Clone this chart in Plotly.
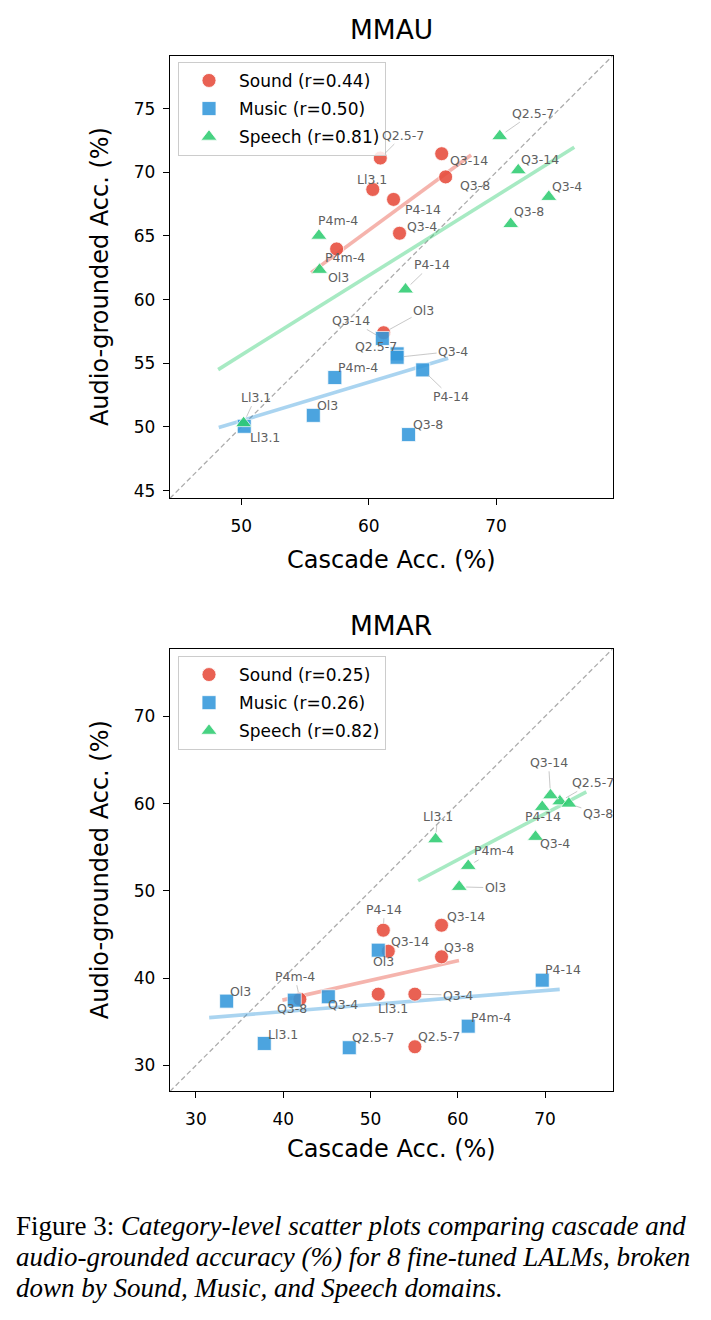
import numpy as np
import plotly.graph_objects as go

# ---------------- data ----------------
models = ["Q2.5-7", "Ll3.1", "P4-14", "Q3-14", "Q3-8", "Q3-4", "P4m-4", "Ol3"]
domains = ["Sound", "Music", "Speech"]

# MMAU (cascade acc, audio-grounded acc) per model, order = models
mmau_sound_cascade = [60.91, 60.32, 61.95, 65.73, 66.04, 62.42, 57.48, 61.17]
mmau_sound_audio = [71.12, 68.65, 67.87, 71.46, 69.64, 65.21, 63.98, 57.40]
mmau_music_cascade = [62.23, 50.23, 64.24, 61.07, 63.13, 62.23, 57.34, 55.65]
mmau_music_audio = [55.74, 50.05, 54.48, 56.95, 49.40, 55.47, 53.88, 50.91]
mmau_speech_cascade = [70.29, 50.18, 62.89, 71.74, 71.15, 74.14, 56.09, 56.14]
mmau_speech_audio = [72.84, 50.30, 60.80, 70.16, 65.94, 68.07, 65.02, 62.34]
mmau_r = [0.44, 0.50, 0.81]

# MMAR
mmar_sound_cascade = [55.09, 50.89, 51.47, 58.14, 58.14, 55.09, 41.91, 52.04]
mmar_sound_audio = [32.14, 38.17, 45.50, 46.07, 42.45, 38.17, 37.59, 43.09]
mmar_music_cascade = [47.57, 37.83, 69.68, 50.89, 41.27, 45.17, 61.20, 33.52]
mmar_music_audio = [32.03, 32.52, 39.77, 43.21, 37.48, 37.87, 34.50, 37.37]
mmar_speech_cascade = [71.70, 57.46, 69.68, 70.63, 72.73, 68.91, 61.20, 60.17]
mmar_speech_audio = [60.27, 55.92, 59.63, 60.96, 60.01, 56.20, 52.87, 50.47]
mmar_r = [0.25, 0.26, 0.82]

mmau_ticks_x = [50, 60, 70]
mmau_ticks_y = [45, 50, 55, 60, 65, 70, 75]
mmar_ticks_x = [30, 40, 50, 60, 70]
mmar_ticks_y = [30, 40, 50, 60, 70]

caption_lines = [
    "Figure 3: <i>Category-level scatter plots comparing cascade and</i>",
    "<i>audio-grounded accuracy (%) for 8 fine-tuned LALMs, broken</i>",
    "<i>down by Sound, Music, and Speech domains.</i>",
]

# ---------------- styles ----------------
W, H = 711, 1320
colors = {"Sound": "#e74c3c", "Music": "#3498db", "Speech": "#2ecc71"}
line_colors = {"Sound": "rgba(231,76,60,0.42)", "Music": "rgba(52,152,219,0.42)",
               "Speech": "rgba(46,204,113,0.42)"}
symbols = {"Sound": "circle", "Music": "square", "Speech": "triangle-up"}
msize = {"Sound": 14, "Music": 14, "Speech": 14}
FONT = "DejaVu Sans"

# label offsets (dx, dy px; dy downward) and whether a connector is drawn
mmau_label_style = {
    "Sound": [(23, -23, 1), (-1, -10, 0), (29, 10, 0), (27, 7, 0), (29, 9, 0), (22, -7, 0), (8, 9, 0), (40, -22, 1)],
    "Music": [(-21, -7, 0), (21, 11, 0), (28, 27, 1), (-31, -18, 1), (19, -10, 0), (56, -6, 1), (23, -10, 0), (14, -10, 0)],
    "Speech": [(33, -23, 1), (12, -26, 1), (26, -25, 1), (22, -11, 0), (18, -12, 0), (18, -10, 0), (19, -15, 0), (19, 8, 0)],
}
mmar_label_style = {
    "Sound": [(24, -10, 0), (15, 14, 0), (1, -21, 1), (24, -9, 0), (17, -9, 0), (43, 1, 1), (-5, -23, 1), (-5, 10, 0)],
    "Music": [(24, -10, 0), (19, -9, 0), (21, -11, 0), (32, -9, 0), (-2, 8, 0), (15, 8, 0), (23, -9, 0), (14, -10, 0)],
    "Speech": [(33, -19, 1), (2, -23, 1), (1, 10, 0), (-2, -33, 1), (29, 10, 1), (19, 7, 0), (26, -15, 1), (36, 1, 1)],
}

# panel boxes in pixels (left, right, top, bottom)
panels = [
    dict(name="MMAU", box=(170, 612.5, 56, 499), xa="x", ya="y", legend="legend",
         data={"Sound": (mmau_sound_cascade, mmau_sound_audio),
               "Music": (mmau_music_cascade, mmau_music_audio),
               "Speech": (mmau_speech_cascade, mmau_speech_audio)},
         r=mmau_r, tx=mmau_ticks_x, ty=mmau_ticks_y, labels=mmau_label_style,
         title_y=30, xtitle_y=561, leg=(178, 62)),
    dict(name="MMAR", box=(170, 612.5, 650, 1093), xa="x2", ya="y2", legend="legend2",
         data={"Sound": (mmar_sound_cascade, mmar_sound_audio),
               "Music": (mmar_music_cascade, mmar_music_audio),
               "Speech": (mmar_speech_cascade, mmar_speech_audio)},
         r=mmar_r, tx=mmar_ticks_x, ty=mmar_ticks_y, labels=mmar_label_style,
         title_y=626, xtitle_y=1151, leg=(178, 657)),
]

fig = go.Figure()
annotations = []
layout = {}

for i, p in enumerate(panels):
    L, R, T, B = p["box"]
    allv = [v for d in domains for arr in p["data"][d] for v in arr]
    lo, hi = min(allv) - 5, max(allv) + 5
    xa, ya = p["xa"], p["ya"]
    # diagonal
    fig.add_trace(go.Scatter(x=[lo, hi], y=[lo, hi], mode="lines", xaxis=xa, yaxis=ya,
                             line=dict(color="rgba(128,128,128,0.65)", width=1.3, dash="5px,3px"),
                             showlegend=False, hoverinfo="skip"))
    # regression lines
    for d in domains:
        x, y = np.array(p["data"][d][0]), np.array(p["data"][d][1])
        k, b = np.polyfit(x, y, 1)
        xs = np.array([x.min() - 2, x.max() + 2])
        fig.add_trace(go.Scatter(x=xs, y=k * xs + b, mode="lines", xaxis=xa, yaxis=ya,
                                 line=dict(color=line_colors[d], width=3.6),
                                 showlegend=False, hoverinfo="skip"))
    # scatter
    for j, d in enumerate(domains):
        x, y = p["data"][d]
        fig.add_trace(go.Scatter(
            x=x, y=y, mode="markers", xaxis=xa, yaxis=ya,
            name=f"{d} (r={p['r'][j]:.2f})", legend=p["legend"], legendgroup=f"{p['name']}{d}",
            marker=dict(symbol=symbols[d], size=msize[d], color=colors[d], opacity=0.88,
                        line=dict(color="white", width=0.8))))
        for m, (xx, yy, st) in enumerate(zip(x, y, p["labels"][d])):
            dx, dy, con = st
            base = dict(x=xx, y=yy, xref=xa, yref=ya, text=models[m],
                        font=dict(family=FONT, size=12.5, color="#606060"))
            if con:
                base.update(showarrow=True, ax=dx, ay=dy, arrowhead=0, arrowwidth=0.8,
                            arrowcolor="rgba(170,170,170,0.8)", standoff=7)
            else:
                base.update(showarrow=False, xshift=dx, yshift=-dy)
            annotations.append(base)

    axis_common = dict(showgrid=False, zeroline=False, showline=True, linecolor="black",
                       linewidth=1.3, mirror=True, ticks="outside", ticklen=6, tickwidth=1.3,
                       tickcolor="black", tickfont=dict(family=FONT, size=17, color="black"))
    xkey = "xaxis" if xa == "x" else "xaxis2"
    ykey = "yaxis" if ya == "y" else "yaxis2"
    layout[xkey] = dict(axis_common, domain=[L / W, R / W], range=[lo, hi], tickvals=p["tx"],
                        anchor=ya, ticklabelstandoff=6)
    layout[ykey] = dict(axis_common, domain=[1 - B / H, 1 - T / H], range=[lo, hi], tickvals=p["ty"],
                        anchor=xa, ticklabelstandoff=4)
    layout[p["legend"]] = dict(x=p["leg"][0] / W, y=1 - p["leg"][1] / H, xanchor="left", yanchor="top",
                               bgcolor="rgba(255,255,255,0.85)", bordercolor="#cccccc", borderwidth=1,
                               font=dict(family=FONT, size=17, color="black"), itemwidth=50,
                               traceorder="grouped", tracegroupgap=3)
    cx = (L + R) / 2 / W
    annotations.append(dict(x=cx, y=1 - p["title_y"] / H, xref="paper", yref="paper", showarrow=False,
                            text=p["name"], font=dict(family=FONT, size=26.5, color="black"),
                            xanchor="center", yanchor="middle"))
    annotations.append(dict(x=cx, y=1 - p["xtitle_y"] / H, xref="paper", yref="paper", showarrow=False,
                            text="Cascade Acc. (%)", font=dict(family=FONT, size=24, color="black"),
                            xanchor="center", yanchor="middle"))
    annotations.append(dict(x=100 / W, y=1 - (T + B) / 2 / H, xref="paper", yref="paper", showarrow=False,
                            text="Audio-grounded Acc. (%)", textangle=-90,
                            font=dict(family=FONT, size=24, color="black"),
                            xanchor="center", yanchor="middle"))

for k, line in enumerate(caption_lines):
    annotations.append(dict(x=14 / W, y=1 - (1228 + 31 * k) / H, xref="paper", yref="paper",
                            showarrow=False, text=line, xanchor="left", yanchor="middle",
                            font=dict(family="Liberation Serif", size=27, color="black")))

fig.update_layout(width=W, height=H, margin=dict(l=0, r=0, t=0, b=0), plot_bgcolor="white",
                  paper_bgcolor="white", annotations=annotations, **layout)
fig.write_html("out.html")
